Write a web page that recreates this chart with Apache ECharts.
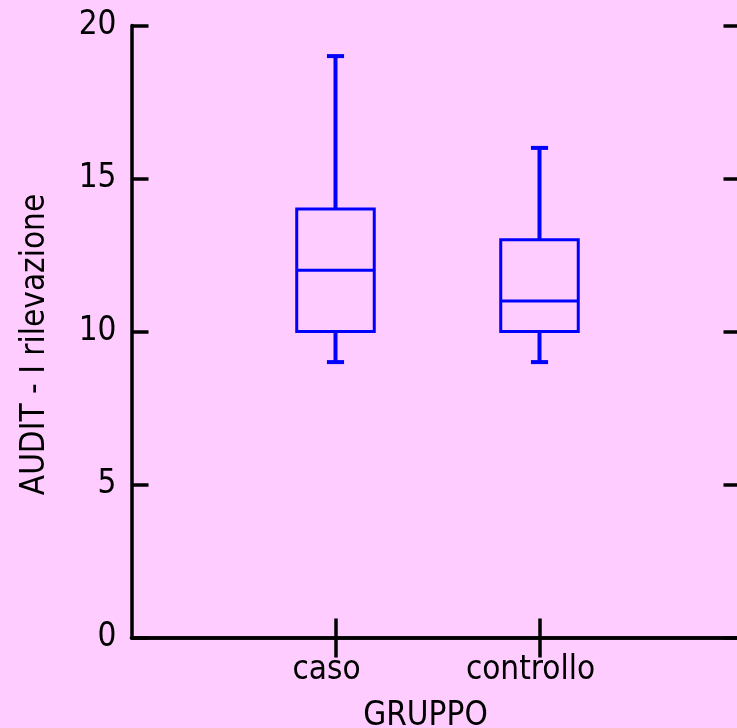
<!DOCTYPE html>
<html><head><meta charset="utf-8">
<script src="https://cdn.jsdelivr.net/npm/echarts@6/dist/echarts.min.js"></script>
<style>html,body{margin:0;padding:0;background:#FFCCFF;}#c{width:737px;height:728px;}</style>
</head><body><div id="c"></div>
<script>
const categories = ['caso', 'controllo'];
const whiskerLow = [9, 9];
const q1 = [10, 10];
const median = [12, 11];
const q3 = [14, 13];
const whiskerHigh = [19, 16];
const yTicks = [0, 5, 10, 15, 20];
const xTitle = 'GRUPPO';
const yTitle = 'AUDIT - I rilevazione';

const FONT = '"DejaVu Sans Condensed", "DejaVu Sans", sans-serif';
const axisCats = [''].concat(categories, ['']);
const boxData = categories.map((c, i) => [i + 1, whiskerLow[i], q1[i], median[i], q3[i], whiskerHigh[i]]);

function renderItem(params, api) {
  const x = api.value(0);
  const band = api.size([1, 0])[0];
  const pLow = api.coord([x, api.value(1)]);
  const pQ1 = api.coord([x, api.value(2)]);
  const pMed = api.coord([x, api.value(3)]);
  const pQ3 = api.coord([x, api.value(4)]);
  const pHigh = api.coord([x, api.value(5)]);
  const hw = band * 0.19;
  const cw = band * 0.042;
  const cx = pMed[0];
  const thin = { stroke: '#0000FF', lineWidth: 3, fill: null };
  const thick = { stroke: '#0000FF', lineWidth: 4, fill: null };
  return {
    type: 'group',
    children: [
      { type: 'line', shape: { x1: cx, y1: pQ3[1], x2: cx, y2: pHigh[1] }, style: thick },
      { type: 'line', shape: { x1: cx, y1: pQ1[1], x2: cx, y2: pLow[1] }, style: thick },
      { type: 'line', shape: { x1: cx - cw, y1: pHigh[1], x2: cx + cw, y2: pHigh[1] }, style: thick },
      { type: 'line', shape: { x1: cx - cw, y1: pLow[1], x2: cx + cw, y2: pLow[1] }, style: thick },
      { type: 'rect', shape: { x: cx - hw, y: pQ3[1], width: 2 * hw, height: pQ1[1] - pQ3[1] }, style: thin },
      { type: 'line', shape: { x1: cx - hw, y1: pMed[1], x2: cx + hw, y2: pMed[1] }, style: thin }
    ]
  };
}

const chart = echarts.init(document.getElementById('c'), null, { renderer: 'canvas' });
const axisLine = { show: true, lineStyle: { color: '#000', width: 3.5 } };
const tickStyle = { color: '#000', width: 3.5 };
const catTickInterval = (i) => i >= 1 && i <= categories.length;
chart.setOption({
  backgroundColor: '#FFCCFF',
  animation: false,
  grid: { left: 131.5, top: 25.5, width: 612, height: 612, outerBoundsMode: 'none', containLabel: false },
  xAxis: [
    {
      type: 'category', data: axisCats, boundaryGap: false, position: 'bottom',
      axisLine: axisLine,
      axisTick: { inside: true, length: 19, lineStyle: tickStyle, interval: catTickInterval },
      axisLabel: { interval: 0, color: '#000', fontSize: 33, fontFamily: FONT, margin: 16, padding: [0, 18, 0, 0] },
      splitLine: { show: false },
      name: xTitle, nameLocation: 'middle', nameGap: 62,
      nameTextStyle: { color: '#000', fontSize: 33, fontFamily: FONT, padding: [0, 24, 0, 0] }
    },
    {
      type: 'category', data: axisCats, boundaryGap: false, position: 'top',
      axisLine: axisLine,
      axisTick: { inside: true, length: 20, lineStyle: tickStyle, interval: catTickInterval },
      axisLabel: { show: false },
      splitLine: { show: false }
    }
  ],
  yAxis: [
    {
      type: 'value', position: 'left',
      min: yTicks[0], max: yTicks[yTicks.length - 1], interval: yTicks[1] - yTicks[0],
      axisLine: axisLine,
      axisTick: { show: true, inside: true, length: 17, lineStyle: tickStyle },
      axisLabel: { color: '#000', fontSize: 33, fontFamily: FONT, margin: 15 },
      splitLine: { show: false },
      name: yTitle, nameLocation: 'middle', nameGap: 80,
      nameTextStyle: { color: '#000', fontSize: 33, fontFamily: FONT, padding: [0, 26, 0, 0] }
    },
    {
      type: 'value', position: 'right',
      min: yTicks[0], max: yTicks[yTicks.length - 1], interval: yTicks[1] - yTicks[0],
      axisLine: axisLine,
      axisTick: { show: true, inside: true, length: 20, lineStyle: tickStyle },
      axisLabel: { show: false },
      splitLine: { show: false }
    }
  ],
  series: [{
    type: 'custom',
    xAxisIndex: 0, yAxisIndex: 0,
    renderItem: renderItem,
    encode: { x: 0, y: [1, 2, 3, 4, 5] },
    data: boxData,
    clip: false
  }]
});
</script>
</body></html>
